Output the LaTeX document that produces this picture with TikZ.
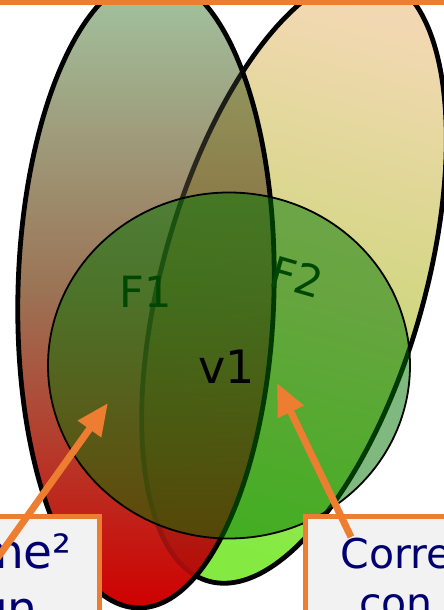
\documentclass[tikz,border=0pt]{standalone}
\usepackage{fontspec}
\setmainfont{DejaVu Sans}
\usepackage{tikz}
\usetikzlibrary{arrows.meta,positioning,fadings}
\definecolor{SOrange}{RGB}{237,125,49}
\definecolor{SGray}{RGB}{242,242,242}
\definecolor{SNavy}{RGB}{0,0,112}
\definecolor{SLabel}{RGB}{0,72,0}
\definecolor{FOneTop}{RGB}{162,198,162}
\definecolor{FOneMid}{RGB}{155,115,85}
\definecolor{FOneBot}{RGB}{208,0,0}
\definecolor{FTwoTop}{RGB}{242,216,178}
\definecolor{FTwoMid}{RGB}{210,215,130}
\definecolor{FTwoBot}{RGB}{132,234,66}
\definecolor{VGreen}{RGB}{0,116,0}
\tikzfading[name=fonefade,top color=transparent!100,middle color=transparent!85,bottom color=transparent!12]

\begin{document}
\begin{tikzpicture}[x=1pt,y=1pt,
  set/.style={line width=4.8pt},
  fone/.style={top color=FOneTop,bottom color=FOneBot,middle color=FOneMid,rotate around={-1.5:(f1c)}},
  ftwo/.style={top color=FTwoTop,bottom color=FTwoBot,middle color=FTwoMid,shading angle=-15.8,rotate around={-15.8:(f2c)}},
  lbl/.style={text=SLabel,inner sep=0pt,font=\fontsize{43}{43}\selectfont},
  box/.style={draw=SOrange,line width=4.5pt,fill=SGray,outer sep=0pt,inner sep=0pt,
    minimum width=220pt,minimum height=220pt},
  note/.style={text=SNavy,inner sep=0pt},
  arr/.style={-{Triangle[length=32pt,width=27pt]},line width=7pt,color=SOrange}
]
  \useasboundingbox (0,0) rectangle (444,610);
  \coordinate (f1c) at (146,318);
  \coordinate (f2c) at (294,331);
  \coordinate (vc) at (229,244.5);

  % face F2 underneath
  \shade[ftwo] (f2c) ellipse [x radius=131pt,y radius=314pt];
  \draw[set,rotate around={-15.8:(f2c)}] (f2c) ellipse [x radius=131pt,y radius=314pt];

  % face F1 over it
  \begin{scope}[blend mode=multiply]
    \shade[fone] (f1c) ellipse [x radius=128pt,y radius=316pt];
  \end{scope}
  \shade[fone,path fading=fonefade] (f1c) ellipse [x radius=128pt,y radius=316pt];
  \draw[set,rotate around={-1.5:(f1c)}] (f1c) ellipse [x radius=128pt,y radius=316pt];

  % vertex v1
  \filldraw[fill=VGreen,fill opacity=0.5,line width=1.8pt] (vc) ellipse [x radius=181pt,y radius=173pt];

  \node[lbl] (f1) at (f1c) {F1};
  \node[lbl,rotate=-16] (f2) at (297,333) {F2};
  \node[lbl,text=black,font=\fontsize{46}{46}\selectfont] (v1) at (227,243) {v1};

  % callout boxes
  \node[box,minimum width=500pt,anchor=south] (topbox) at (222,607.5) {};
  \node[box,anchor=north east] (leftbox) at (99.5,93.5) {};
  \node[box,anchor=north west] (rightbox) at (305.5,93.5) {};
  \node[note,anchor=base west,align=left,font=\fontsize{47}{58}\selectfont] (lefttxt) at (-22,-16) {me²\\un};
  \node[note,anchor=base,align=center,font=\fontsize{41}{50}\selectfont] (righttxt) at (396,-8) {Corre\\con};

  \coordinate (lefttail) at (-4,50);
  \coordinate (lefthead) at (108,207);
  \coordinate (righttail) at (351,73);
  \coordinate (righthead) at (277,227);
  \draw[arr] (lefttail) -- (lefthead);
  \draw[arr] (righttail) -- (righthead);
\end{tikzpicture}
\end{document}
